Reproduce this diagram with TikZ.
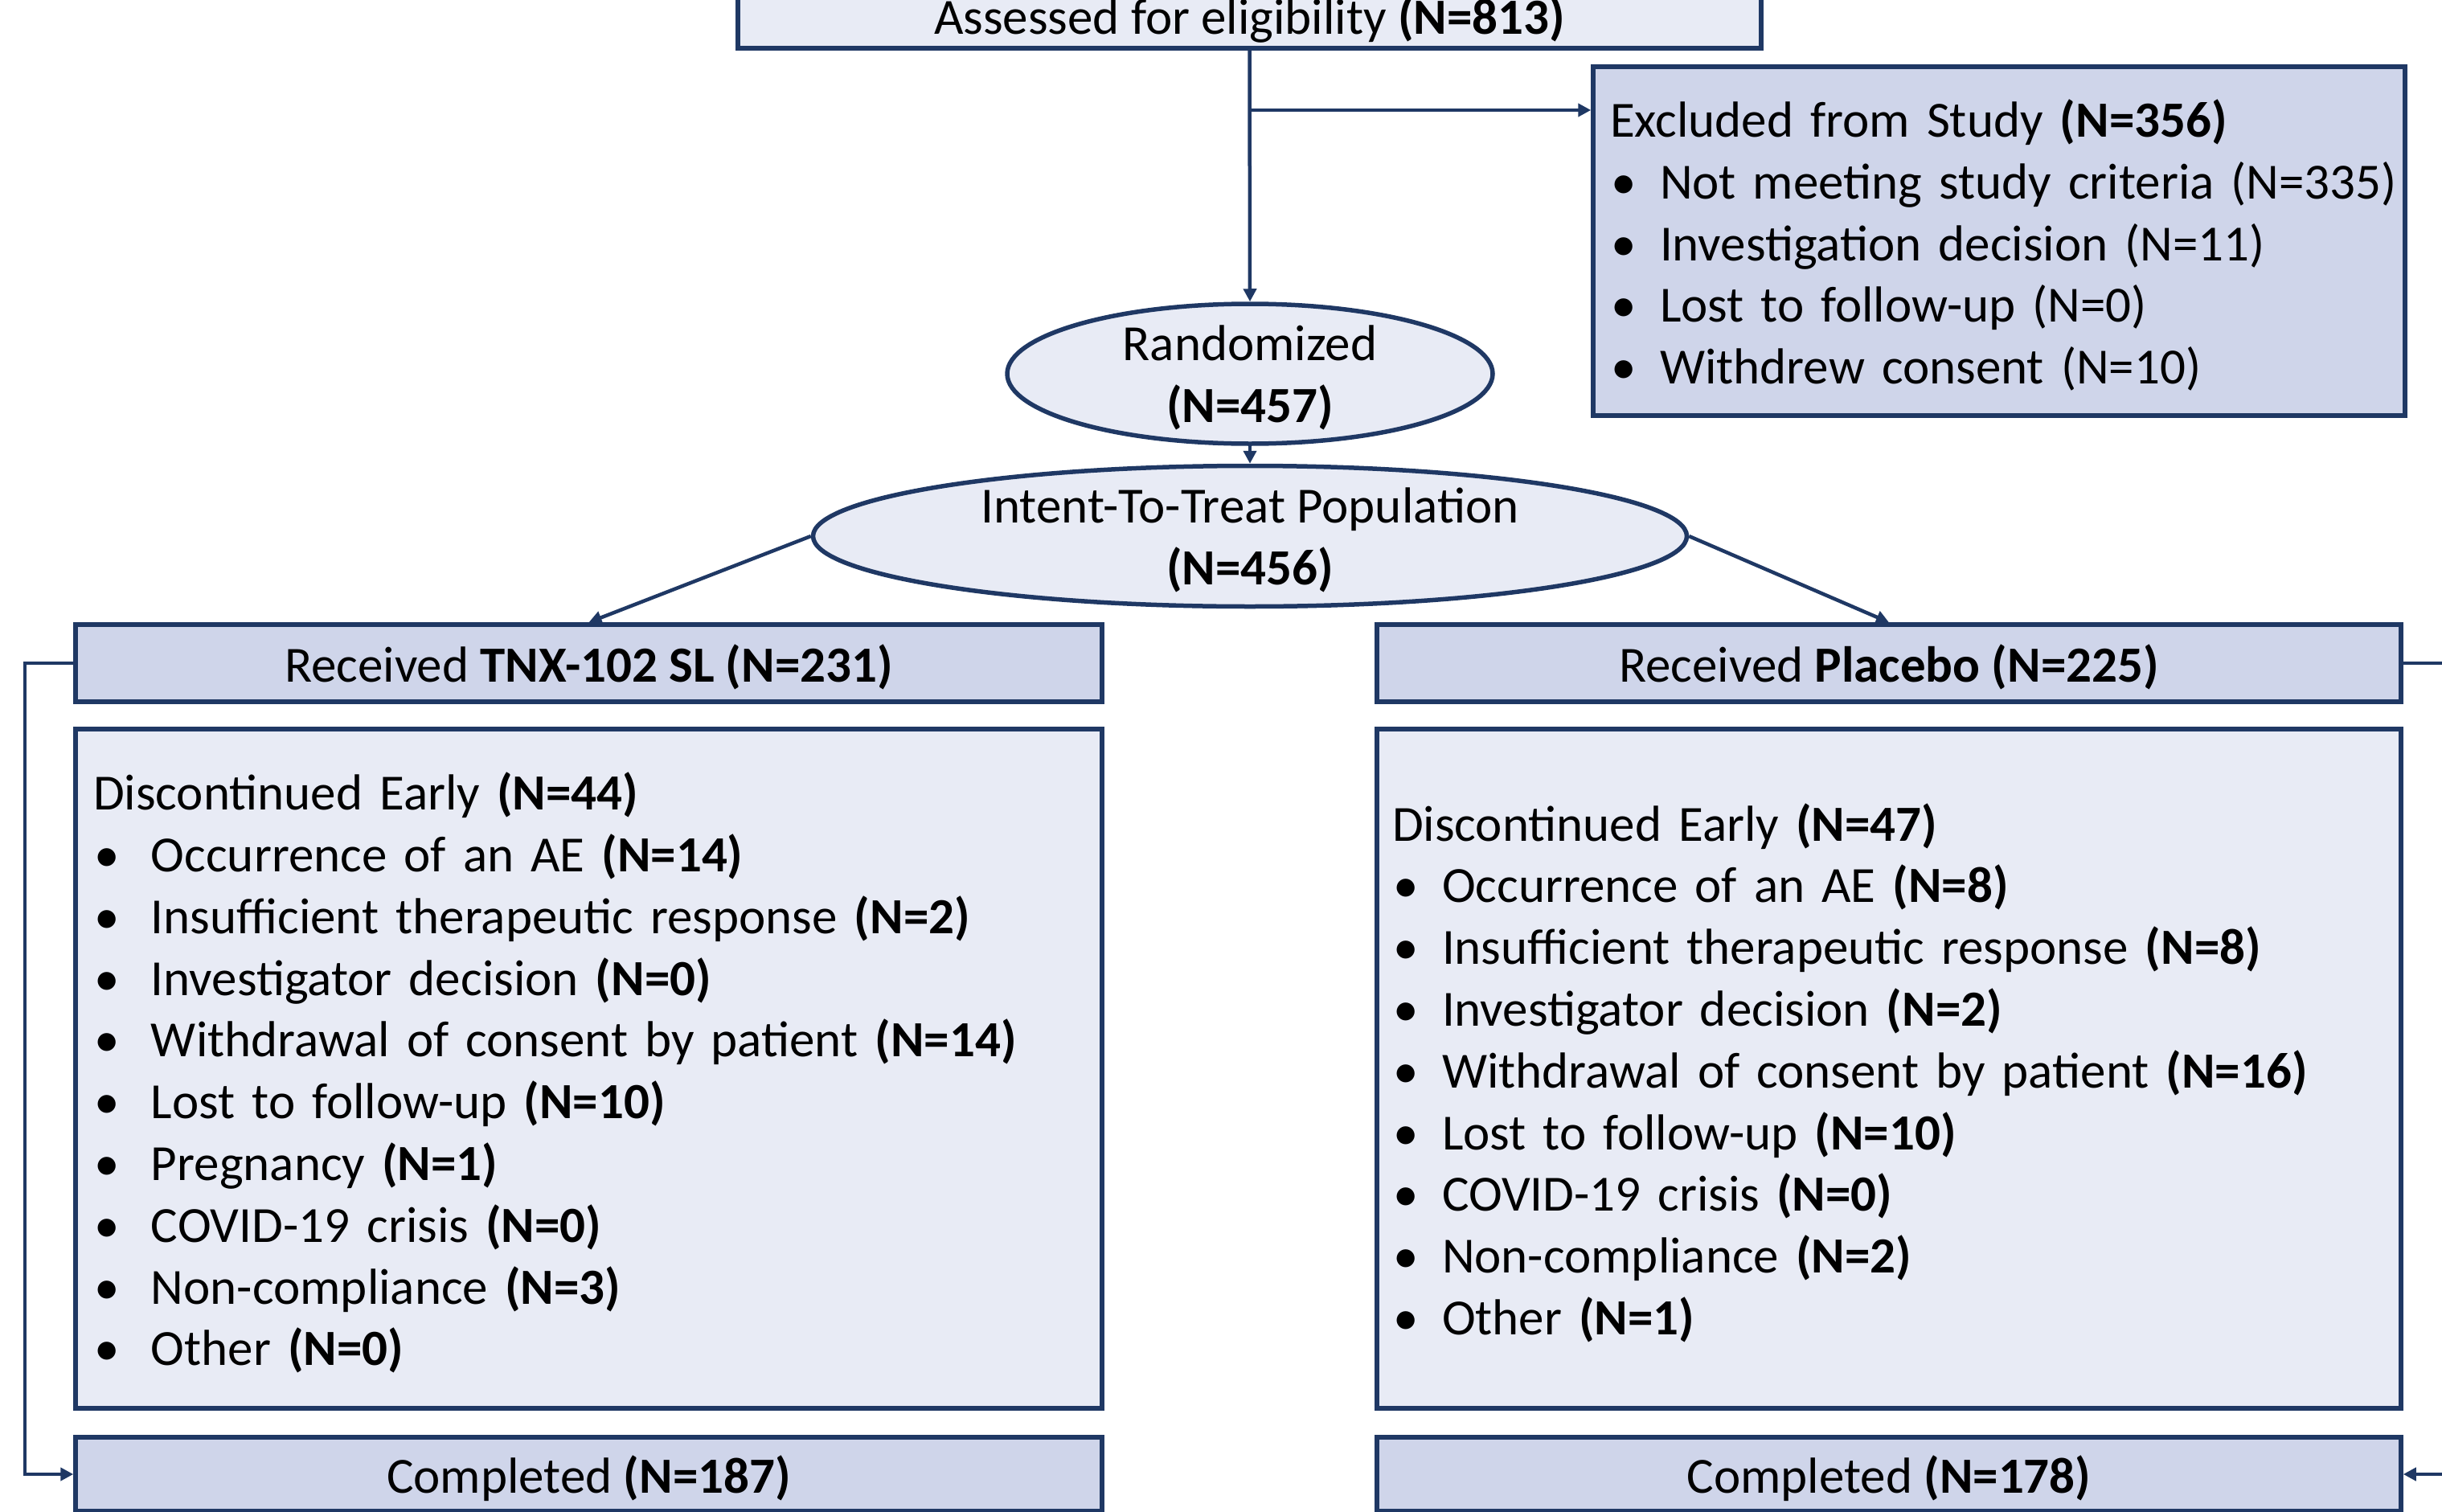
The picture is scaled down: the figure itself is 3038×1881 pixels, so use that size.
\documentclass[tikz,border=0pt]{standalone}
\usepackage{fontspec}
\setmainfont{Carlito}
\usetikzlibrary{shapes.geometric,arrows.meta}
\definecolor{navy}{HTML}{1F3864}
\definecolor{fillA}{HTML}{E8EBF5}
\definecolor{fillB}{HTML}{CFD5EA}
\newcommand{\bul}[1]{\makebox[#1][l]{\hspace{1pt}\textbullet}}
\newcommand{\topstrut}{\rule{0pt}{57pt}}
\begin{document}
\begin{tikzpicture}[x=1pt,y=-1pt,
  every node/.style={font=\fontsize{63}{76.8}\selectfont},
  one/.style={text depth=0pt},
  boxA/.style={draw=navy,line width=5.5pt,fill=fillA,rectangle,inner sep=0pt},
  boxB/.style={draw=navy,line width=5.5pt,fill=fillB,rectangle,inner sep=0pt},
  ell/.style={draw=navy,line width=5.5pt,fill=fillA,ellipse,inner sep=0pt,align=center,text depth=0pt},
  conn/.style={draw=navy,line width=4.5pt},
  arr/.style={conn,-{Triangle[length=16pt,width=16pt]}}]
\useasboundingbox (0,0) rectangle (3038,1881);
% top
\node[boxA,one,minimum width=1273pt,minimum height=81pt] (assess) at (1554.5,19.5) {Assessed for eligibility \textbf{(N=813)}};
\node[boxB,minimum width=1010pt,minimum height=434pt,text width=968pt,align=left] (excl) at (2487,300)
 {\topstrut Excluded from Study \textbf{(N=356)}\\
  \mbox{\bul{62pt}Not meeting study criteria (N=335)}\\
  \bul{62pt}Investigation decision (N=11)\\
  \bul{62pt}Lost to follow-up (N=0)\\
  \bul{62pt}Withdrew consent (N=10)};
\node[ell,minimum width=604pt,minimum height=174pt] (rand) at (1555,465) {Randomized\\\textbf{(N=457)}};
\node[ell,minimum width=1087pt,minimum height=175pt] (itt) at (1555,667) {Intent-To-Treat Population\\\textbf{(N=456)}};
% arms
\node[boxB,one,minimum width=1277pt,minimum height=96pt] (recL) at (732.5,825) {Received \textbf{TNX-102 SL (N=231)}};
\node[boxB,one,minimum width=1274pt,minimum height=96pt] (recR) at (2350,825) {Received \textbf{Placebo (N=225)}};
\node[boxA,minimum width=1277pt,minimum height=845pt,text width=1233pt,align=left] (discL) at (732.5,1329.5)
 {\topstrut Discontinued Early \textbf{(N=44)}\\
  \bul{72pt}Occurrence of an AE \textbf{(N=14)}\\
  \bul{72pt}Insufficient therapeutic response \textbf{(N=2)}\\
  \bul{72pt}Investigator decision \textbf{(N=0)}\\
  \bul{72pt}Withdrawal of consent by patient \textbf{(N=14)}\\
  \bul{72pt}Lost to follow-up \textbf{(N=10)}\\
  \bul{72pt}Pregnancy \textbf{(N=1)}\\
  \bul{72pt}COVID-19 crisis \textbf{(N=0)}\\
  \bul{72pt}Non-compliance \textbf{(N=3)}\\
  \bul{72pt}Other \textbf{(N=0)}};
\node[boxA,minimum width=1274pt,minimum height=845pt,text width=1236pt,align=left] (discR) at (2350,1329.5)
 {\topstrut Discontinued Early \textbf{(N=47)}\\
  \bul{62pt}Occurrence of an AE \textbf{(N=8)}\\
  \bul{62pt}Insufficient therapeutic response \textbf{(N=8)}\\
  \bul{62pt}Investigator decision \textbf{(N=2)}\\
  \bul{62pt}Withdrawal of consent by patient \textbf{(N=16)}\\
  \bul{62pt}Lost to follow-up \textbf{(N=10)}\\
  \bul{62pt}COVID-19 crisis \textbf{(N=0)}\\
  \bul{62pt}Non-compliance \textbf{(N=2)}\\
  \bul{62pt}Other \textbf{(N=1)}};
\node[boxB,one,minimum width=1277pt,minimum height=92pt] (compL) at (732.5,1834) {Completed \textbf{(N=187)}};
\node[boxB,one,minimum width=1274pt,minimum height=92pt] (compR) at (2350,1834) {Completed \textbf{(N=178)}};
% connectors
\coordinate (br) at (1555,137);
\coordinate (loopL) at (31,825);
\coordinate (loopR) at (3060,825);
\draw[arr] (assess.south) -- (rand.north);
\draw[arr] (br) -- (br -| excl.west);
\draw[arr] (rand.south) -- (itt.north);
\draw[arr] (itt.west) -- (recL.north);
\draw[arr] (itt.east) -- (recR.north);
\draw[arr] (recL.west) -- (loopL) |- (compL.west);
\draw[arr] (recR.east) -- (loopR) |- (compR.east);
\end{tikzpicture}
\end{document}
